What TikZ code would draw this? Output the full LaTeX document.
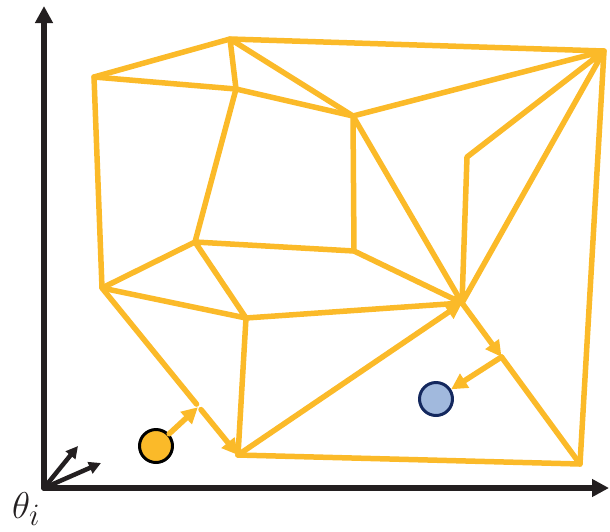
\documentclass[tikz,border=0pt]{standalone}
\usepackage{graphicx}
\usetikzlibrary{arrows.meta,calc}
\definecolor{gold}{RGB}{251,186,41}
\definecolor{navy}{RGB}{20,40,94}
\definecolor{paleblue}{RGB}{161,185,221}
\definecolor{ink}{RGB}{35,31,32}
\tikzset{
  edge/.style={draw=gold,line width=5.5pt},
  flow/.style={edge,-{Triangle[length=16pt,width=16pt]}},
  ax/.style={draw=ink,line width=5.5pt,-{Triangle[length=17pt,width=17pt]}},
  dir/.style={draw=ink,line width=4.5pt,-{Triangle[length=12pt,width=12pt]}},
  pt/.style={circle,draw,line width=3pt,minimum size=33pt,inner sep=0pt},
  every picture/.style={line cap=round,line join=round}}

\begin{document}
\begin{tikzpicture}[x=1pt,y=-1pt]
  \useasboundingbox (0,0) rectangle (610,531);
  % axes
  \coordinate (o) at (44,488);
  \coordinate (yt) at (44,6); \coordinate (xt) at (609,488);
  \coordinate (v1) at (78,446); \coordinate (v2) at (101,463);
  \draw[ax] (o)--(yt); \draw[ax] (o)--(xt);
  \draw[dir] (o)--(v1); \draw[dir] (o)--(v2);
  \node[text=ink,font=\Huge,inner sep=0pt,anchor=south west] (lab) at (12,526)
    {\scalebox{1.5}{$\theta_i$}};
  % mesh
  \coordinate (a) at (94,77);  \coordinate (b) at (230,39);
  \coordinate (c) at (604,51); \coordinate (d) at (580,464);
  \coordinate (e) at (238,455); \coordinate (f) at (102,288);
  \coordinate (g) at (236,89); \coordinate (h) at (353,116);
  \coordinate (i) at (467,157); \coordinate (j) at (195,242);
  \coordinate (k) at (354,251); \coordinate (l) at (246,318);
  \coordinate (m) at (462,303);
  \coordinate (p) at ($(f)!0.71!(e)$);
  \coordinate (p1) at ($(f)!0.695!(e)$); \coordinate (p2) at ($(f)!0.728!(e)$);
  \coordinate (q) at ($(m)!0.335!(d)$);
  \draw[edge] (p1)--(f)--(a)--(b)--(c)--(d)--(e);
  \draw[edge] (a)--(g)--(h)--(c)--(i)--(m)--(c);
  \draw[edge] (b)--(g)--(j)--(f)--(l)--(j)--(k)--(h)--(b);
  \draw[edge] (h)--(m)--(k) (l)--(e) (l)--(m) (q)--(d);
  \draw[flow] (p2)--(e); \draw[flow] (e)--(m); \draw[flow] (m)--(q);
  % samples
  \node[pt,fill=gold,draw=black] (oc) at (156,446){};
  \node[pt,fill=paleblue,draw=navy] (bc) at (436,399){};
  \draw[flow,shorten >=1pt] (oc)--(p);
  \draw[flow] (q)--(bc);
\end{tikzpicture}
\end{document}
